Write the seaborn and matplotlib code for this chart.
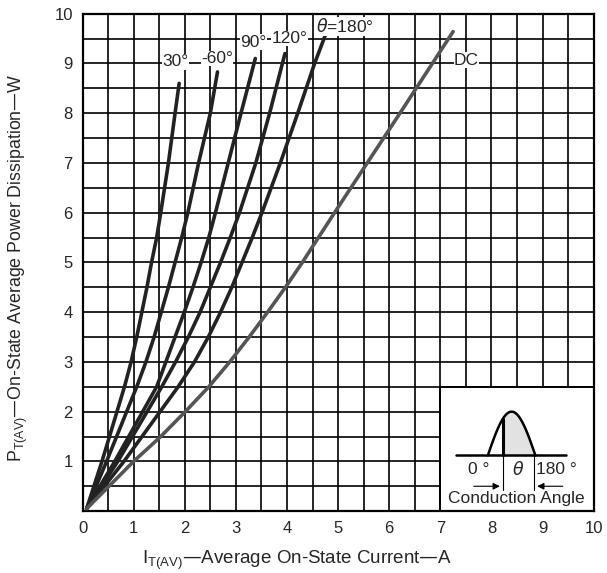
import numpy as np
import pandas as pd
import matplotlib
matplotlib.use("Agg")
import matplotlib.pyplot as plt
from matplotlib.patches import Rectangle
import seaborn as sns

# curve readings (current A, power W)
i_30 = [0.08, 0.38, 0.82, 0.95, 1.06, 1.16, 1.26, 1.35, 1.45, 1.53, 1.68, 1.81, 1.89]
p_30 = [0.05, 1.0, 2.5, 3.0, 3.5, 4.0, 4.5, 5.0, 5.5, 6.0, 7.0, 8.0, 8.6]
i_60 = [0.08, 0.47, 1.06, 1.24, 1.40, 1.54, 1.68, 1.81, 1.94, 2.06, 2.27, 2.50, 2.64]
p_60 = [0.05, 1.0, 2.5, 3.0, 3.5, 4.0, 4.5, 5.0, 5.5, 6.0, 7.0, 8.0, 8.83]
i_90 = [0.08, 0.63, 1.45, 1.63, 1.81, 1.99, 2.16, 2.32, 2.47, 2.60, 2.85, 3.10, 3.38]
p_90 = [0.05, 1.0, 2.5, 3.0, 3.5, 4.0, 4.5, 5.0, 5.5, 6.0, 7.0, 8.0, 9.1]
i_120 = [0.08, 0.69, 1.55, 1.82, 2.07, 2.30, 2.50, 2.70, 2.89, 3.07, 3.39, 3.66, 3.96]
p_120 = [0.05, 1.0, 2.5, 3.0, 3.5, 4.0, 4.5, 5.0, 5.5, 6.0, 7.0, 8.0, 9.2]
i_180 = [0.08, 0.81, 1.87, 2.19, 2.46, 2.70, 2.92, 3.12, 3.32, 3.51, 3.87, 4.21, 4.54, 4.75]
p_180 = [0.05, 1.0, 2.5, 3.0, 3.5, 4.0, 4.5, 5.0, 5.5, 6.0, 7.0, 8.0, 9.0, 9.57]
i_dc = [0.08, 1.0, 1.53, 2.01, 2.47, 2.88, 3.26, 3.62, 3.97, 4.30, 4.93, 5.57, 6.21, 7.25]
p_dc = [0.05, 1.0, 1.5, 2.0, 2.5, 3.0, 3.5, 4.0, 4.5, 5.0, 6.0, 7.0, 8.0, 9.64]

curve_names = ["30", "60", "90", "120", "180", "DC"]
curve_i = [i_30, i_60, i_90, i_120, i_180, i_dc]
curve_p = [p_30, p_60, p_90, p_120, p_180, p_dc]

# labels next to curve tops
label_text = ["30°", "-60°", "90°", "120°", "$\\mathit{\\theta}$=180°", "DC"]
label_x = [1.56, 2.32, 3.08, 3.70, 4.57, 7.27]
label_y = [9.03, 9.10, 9.43, 9.50, 9.75, 9.07]

rows = []
for name, xs, ys in zip(curve_names, curve_i, curve_p):
    for k, (x, y) in enumerate(zip(xs, ys)):
        rows.append({"curve": name, "order": k, "I": x, "P": y})
df = pd.DataFrame(rows)

sns.set_style("white")
plt.rcParams["font.family"] = ["Liberation Sans", "DejaVu Sans"]

fig = plt.figure(figsize=(6.07, 5.73), dpi=100)
ax = fig.add_axes([0.136, 0.108, 0.842, 0.868])

palette = {"30": "#222222", "60": "#222222", "90": "#222222",
           "120": "#222222", "180": "#222222", "DC": "#555555"}
sns.lineplot(data=df, x="I", y="P", hue="curve", palette=palette,
             sort=False, estimator=None, units="curve", legend=False,
             linewidth=2.6, ax=ax, zorder=3)
for ln in ax.get_lines():
    ln.set_solid_joinstyle("round")

ax.set_xlim(0, 10)
ax.set_ylim(0, 10)
ax.set_xticks(range(0, 11))
ax.set_yticks(range(1, 11))
ax.set_xticks(np.arange(0, 10.01, 0.5), minor=True)
ax.set_yticks(np.arange(0, 10.01, 0.5), minor=True)
ax.grid(True, which="both", color="black", linewidth=1.2)
ax.set_axisbelow(True)
ax.tick_params(which="both", length=0, labelsize=12, pad=7)
for s in ax.spines.values():
    s.set_color("black")
    s.set_linewidth(1.6)

ax.set_xlabel("I$_{\\mathregular{T(AV)}}$—Average On-State Current—A", fontsize=13.5)
ax.set_ylabel("P$_{\\mathregular{T(AV)}}$—On-State Average Power Dissipation—W", fontsize=12.8)
ax.xaxis.set_label_coords(0.42, -0.075)
ax.yaxis.set_label_coords(-0.102, 0.49)

for t, x, y in zip(label_text, label_x, label_y):
    ax.text(x, y, t, fontsize=12.5, ha="left", va="center", zorder=5,
            bbox=dict(facecolor="white", edgecolor="none", pad=0.3))

# inset: conduction angle sketch
ax.add_patch(Rectangle((7.0, 0.0), 3.0, 2.5, facecolor="white", edgecolor="black",
                       linewidth=1.4, zorder=1))
ph = np.linspace(0, np.pi, 60)
wx = 7.93 + (8.86 - 7.93) * ph / np.pi
wy = 1.12 + 0.88 * np.sin(ph)
ax.plot(wx, wy, color="black", lw=1.8, zorder=4)
m = wx >= 8.22
ax.fill_between(wx[m], 1.12, wy[m], color="#e2e2e2", zorder=3)
ax.plot([8.22, 8.22], [1.12, 1.12 + 0.88 * np.sin(np.pi * (8.22 - 7.93) / 0.93)],
        color="black", lw=2.2, zorder=4)
ax.plot([7.31, 9.46], [1.12, 1.12], color="black", lw=1.8, zorder=4)
ax.plot([8.22, 8.22], [0.42, 1.12], color="black", lw=0.8, zorder=4)
ax.plot([8.84, 8.84], [0.42, 1.12], color="black", lw=0.8, zorder=4)
ax.annotate("", xy=(8.22, 0.5), xytext=(7.6, 0.5),
            arrowprops=dict(arrowstyle="-|>", lw=0.8, color="black"), zorder=4)
ax.annotate("", xy=(8.84, 0.5), xytext=(9.45, 0.5),
            arrowprops=dict(arrowstyle="-|>", lw=0.8, color="black"), zorder=4)
ax.text(7.76, 0.84, "0 °", fontsize=12.5, ha="center", va="center", zorder=4)
ax.text(8.52, 0.84, "$\\mathit{\\theta}$", fontsize=12.5, ha="center", va="center", zorder=4)
ax.text(9.28, 0.84, "180 °", fontsize=12.5, ha="center", va="center", zorder=4)
ax.text(8.48, 0.25, "Conduction Angle", fontsize=12.5, ha="center", va="center", zorder=4)

fig.savefig("out.png", dpi=100)
